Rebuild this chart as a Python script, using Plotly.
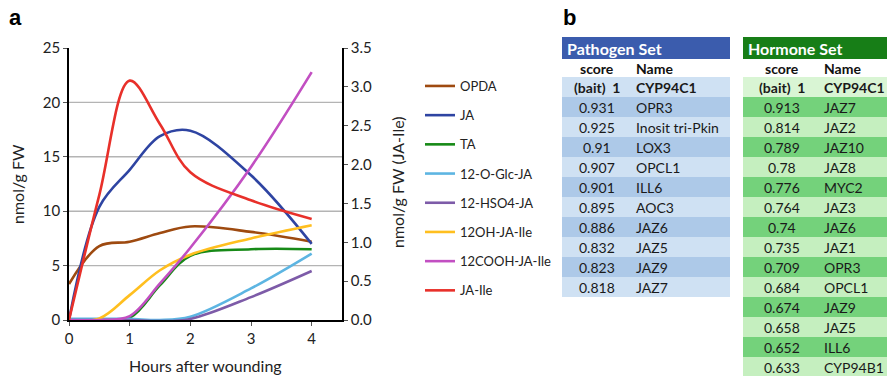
import plotly.graph_objects as go

W, H = 887, 376

# ---- panel a: jasmonate time course ----
hours = [0, 0.5, 1, 1.5, 2, 3, 4]

# left axis (nmol/g FW)
opda = [3.3, 6.8, 7.2, 8.0, 8.6, 8.1, 7.2]
ja = [0.0, 10.4, 13.8, 16.9, 17.4, 13.3, 7.0]
ta = [0.0, 0.0, 0.2, 3.2, 5.9, 6.5, 6.5]
glc_ja = [0.1, 0.1, 0.1, 0.0, 0.3, 2.9, 6.1]
hso4_ja = [0.0, 0.0, 0.0, -0.1, 0.1, 2.1, 4.5]
# right axis (nmol/g FW, JA-Ile conjugates)
oh_ja_ile = [0.0, 0.02, 0.32, 0.64, 0.84, 1.05, 1.22]
cooh_ja_ile = [0.0, 0.0, 0.05, 0.47, 0.93, 1.97, 3.19]
ja_ile = [0.0, 1.61, 3.08, 2.52, 1.90, 1.54, 1.30]

left_ticks = [0, 5, 10, 15, 20, 25]
right_ticks = [0, 0.5, 1.0, 1.5, 2.0, 2.5, 3.0, 3.5]
x_ticks = [0, 1, 2, 3, 4]

series = [
    ("OPDA", opda, "#9E4A10", "y"),
    ("JA", ja, "#2E44A2", "y"),
    ("TA", ta, "#178A17", "y"),
    ("12-O-Glc-JA", glc_ja, "#5DB5E2", "y"),
    ("12-HSO4-JA", hso4_ja, "#7D5BA8", "y"),
    ("12OH-JA-Ile", oh_ja_ile, "#FFBF1F", "y2"),
    ("12COOH-JA-Ile", cooh_ja_ile, "#C24FC2", "y2"),
    ("JA-Ile", ja_ile, "#E8302A", "y2"),
]

# ---- panel b: co-expression lists ----
path_scores = ["(bait)  1", "0.931", "0.925", "0.91", "0.907", "0.901",
               "0.895", "0.886", "0.832", "0.823", "0.818"]
path_names = ["CYP94C1", "OPR3", "Inosit tri-Pkin", "LOX3", "OPCL1", "ILL6",
              "AOC3", "JAZ6", "JAZ5", "JAZ9", "JAZ7"]
horm_scores = ["(bait)  1", "0.913", "0.814", "0.789", "0.78", "0.776", "0.764",
               "0.74", "0.735", "0.709", "0.684", "0.674", "0.658", "0.652", "0.633"]
horm_names = ["CYP94C1", "JAZ7", "JAZ2", "JAZ10", "JAZ8", "MYC2", "JAZ3", "JAZ6",
              "JAZ1", "OPR3", "OPCL1", "JAZ9", "JAZ5", "ILL6", "CYP94B1"]

FONT = "Lato"
TEXT = "#222222"


def px_x(v):
    return v / W


def px_y(v):
    return 1 - v / H


fig = go.Figure()

for name, vals, color, axis in series:
    fig.add_trace(go.Scatter(
        x=hours, y=vals, name=name, yaxis=axis, mode="lines",
        line=dict(color=color, width=2.6, shape="spline", smoothing=1.0),
        legendgroup=name, hoverinfo="skip",
    ))

# horizontal gridlines at the inner left-axis ticks
for t in left_ticks[1:-1]:
    fig.add_shape(type="line", xref="x domain", yref="y", x0=0, x1=1, y0=t, y1=t,
                  line=dict(color="#B4B4B4", width=1.4), layer="below")

# table geometry (pixels)
BAR_TOP, HEAD_TOP, ROW_TOP = 37, 59, 77
ROW_H = 20


def add_table(title, bar_color, scores, names, x0, x1, score_cx, name_x,
              light, dark, first):
    # title bar
    fig.add_shape(type="rect", xref="paper", yref="paper",
                  x0=px_x(x0), x1=px_x(x1), y0=px_y(HEAD_TOP), y1=px_y(BAR_TOP),
                  fillcolor=bar_color, line=dict(width=0))
    fig.add_annotation(text="<b>%s</b>" % title, xref="paper", yref="paper",
                       x=px_x(x0 + 3), y=px_y((BAR_TOP + HEAD_TOP) / 2 + 0.5),
                       xanchor="left", yanchor="middle", showarrow=False,
                       font=dict(family=FONT, size=16, color="white"))
    # column headers
    hy = px_y((HEAD_TOP + ROW_TOP) / 2 + 0.5)
    fig.add_annotation(text="<b>score</b>", xref="paper", yref="paper", x=px_x(score_cx),
                       y=hy, xanchor="center", yanchor="middle", showarrow=False,
                       font=dict(family=FONT, size=14, color="#111111"))
    fig.add_annotation(text="<b>Name</b>", xref="paper", yref="paper", x=px_x(name_x),
                       y=hy, xanchor="left", yanchor="middle", showarrow=False,
                       font=dict(family=FONT, size=14, color="#111111"))
    # rows
    for i, (s, n) in enumerate(zip(scores, names)):
        top = ROW_TOP + ROW_H * i
        fill = first if i == 0 else (dark if i % 2 == 1 else light)
        fig.add_shape(type="rect", xref="paper", yref="paper",
                      x0=px_x(x0), x1=px_x(x1), y0=px_y(top + ROW_H), y1=px_y(top),
                      fillcolor=fill, line=dict(width=0), layer="below")
        cy = px_y(top + ROW_H / 2 + 0.5)
        if i == 0:
            s, n = "<b>%s</b>" % s.replace("  ", "&nbsp; "), "<b>%s</b>" % n
        fig.add_annotation(text=s, xref="paper", yref="paper", x=px_x(score_cx), y=cy,
                           xanchor="center", yanchor="middle", showarrow=False,
                           font=dict(family=FONT, size=14, color="#1A1A1A"))
        fig.add_annotation(text=n, xref="paper", yref="paper", x=px_x(name_x), y=cy,
                           xanchor="left", yanchor="middle", showarrow=False,
                           font=dict(family=FONT, size=14, color="#1A1A1A"))


add_table("Pathogen Set", "#3B5CAD", path_scores, path_names, 562, 730, 597, 634,
          "#CFE1F3", "#ADC9E8", "#CFE1F3")
add_table("Hormone Set", "#177E17", horm_scores, horm_names, 743, 887, 782, 822,
          "#C5EFBF", "#74D27B", "#D9F5D4")

# panel letters
for letter, lx in [("a", 7), ("b", 561)]:
    fig.add_annotation(text="<b>%s</b>" % letter, xref="paper", yref="paper",
                       x=px_x(lx), y=px_y(18), xanchor="left", yanchor="middle",
                       showarrow=False,
                       font=dict(family="Liberation Sans", size=22, color="black"))

axis_font = dict(family=FONT, size=15, color=TEXT)
title_font = dict(family=FONT, size=16, color=TEXT)

# axis titles
fig.add_annotation(text="nmol/g FW", xref="paper", yref="paper", x=px_x(18), y=px_y(184),
                   textangle=-90, showarrow=False, xanchor="center", yanchor="middle",
                   font=title_font)
fig.add_annotation(text="nmol/g FW (JA-Ile)", xref="paper", yref="paper", x=px_x(397),
                   y=px_y(182), textangle=-90, showarrow=False, xanchor="center",
                   yanchor="middle", font=title_font)
fig.add_annotation(text="Hours after wounding", xref="paper", yref="paper", x=px_x(205),
                   y=px_y(365.5), showarrow=False, xanchor="center", yanchor="middle",
                   font=title_font)

common_axis = dict(showgrid=False, zeroline=False, showline=True, linecolor="black",
                   linewidth=1.6, ticks="outside", ticklen=4, tickcolor="#555555",
                   tickfont=axis_font, automargin=False)

fig.update_layout(
    width=W, height=H,
    margin=dict(l=0, r=0, t=0, b=0, autoexpand=False),
    paper_bgcolor="white", plot_bgcolor="white",
    font=dict(family=FONT, size=13, color=TEXT),
    showlegend=True,
    legend=dict(x=px_x(420), y=px_y(71), xanchor="left", yanchor="top",
                traceorder="grouped", tracegroupgap=9.3,
                font=dict(family=FONT, size=13, color=TEXT),
                bgcolor="rgba(0,0,0,0)", itemwidth=30),
    xaxis=dict(domain=[px_x(69), px_x(342)], range=[0, 4.5], tickvals=x_ticks,
               **common_axis),
    yaxis=dict(domain=[px_y(320), px_y(48)], range=[0, 25], tickvals=left_ticks,
               **common_axis),
    yaxis2=dict(overlaying="y", side="right", range=[0, 3.5], tickvals=right_ticks,
                ticktext=["%.1f" % v for v in right_ticks], **common_axis),
)

fig.write_html("out.html")
